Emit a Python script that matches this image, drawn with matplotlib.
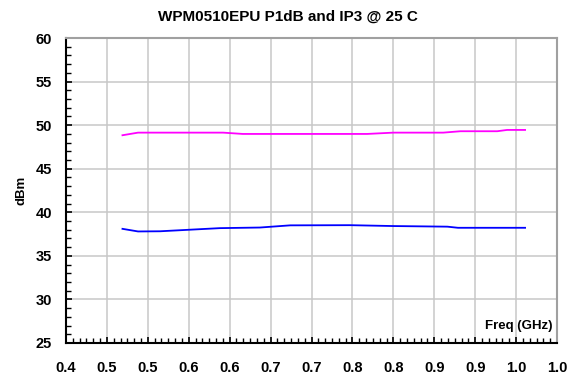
import matplotlib
matplotlib.use("Agg")
import matplotlib.pyplot as plt
from matplotlib.ticker import AutoMinorLocator

plt.rcParams['font.family'] = ['Liberation Sans', 'DejaVu Sans']
plt.rcParams['font.weight'] = 'bold'

# valores
freq_ip3 = [0.469, 0.488, 0.592, 0.616, 0.768, 0.800, 0.861, 0.882, 0.927, 0.939, 0.961]
ip3 = [48.84, 49.14, 49.14, 48.99, 48.99, 49.14, 49.14, 49.30, 49.30, 49.45, 49.45]

freq_p1db = [0.469, 0.488, 0.515, 0.588, 0.637, 0.674, 0.747, 0.800, 0.866, 0.879, 0.961]
p1db = [38.10, 37.80, 37.82, 38.18, 38.25, 38.50, 38.52, 38.42, 38.35, 38.22, 38.22]

x_ticks = [0.40, 0.45, 0.50, 0.55, 0.60, 0.65, 0.70, 0.75, 0.80, 0.85, 0.90, 0.95, 1.00]
x_tick_labels = ['0.4', '0.5', '0.5', '0.6', '0.6', '0.7', '0.7',
                 '0.8', '0.8', '0.9', '0.9', '1.0', '1.0']
y_ticks = [25, 30, 35, 40, 45, 50, 55, 60]

fig = plt.figure(figsize=(5.76, 3.8), dpi=100)
ax = fig.add_axes([0.1146, 0.0974, 0.8524, 0.8026])

ax.plot(freq_ip3, ip3, color='#FF00FF', lw=1.3)
ax.plot(freq_p1db, p1db, color='#0000FF', lw=1.3)

ax.set_xlim(0.4, 1.0)
ax.set_ylim(25, 60)
ax.set_xticks(x_ticks)
ax.set_xticklabels(x_tick_labels)
ax.set_yticks(y_ticks)
ax.xaxis.set_minor_locator(AutoMinorLocator(6))
ax.yaxis.set_minor_locator(AutoMinorLocator(5))

ax.grid(True, which='major', color='#c8c8c8', lw=1.1)
ax.set_axisbelow(True)

ax.tick_params(axis='both', which='both', direction='in', labelsize=10.5)
ax.tick_params(axis='both', which='major', length=4.5, width=1.2)
ax.tick_params(axis='both', which='minor', length=3.5, width=1.0)
ax.tick_params(axis='x', which='major', pad=13)
ax.tick_params(axis='y', which='major', pad=10)

for s in ['left', 'bottom']:
    ax.spines[s].set_color('black')
    ax.spines[s].set_linewidth(1.5)
for s in ['top', 'right']:
    ax.spines[s].set_color('#a0a0a0')
    ax.spines[s].set_linewidth(1.5)

fig.text(0.5, 0.955, 'WPM0510EPU P1dB and IP3 @ 25 C', ha='center', va='center',
         fontsize=11, fontweight='bold')
ax.set_ylabel('dBm', fontsize=9.5, fontweight='bold', labelpad=6)
ax.text(0.99, 0.035, 'Freq (GHz)', transform=ax.transAxes, ha='right', va='bottom',
        fontsize=9.5, fontweight='bold')

fig.savefig('out.png', dpi=100)
